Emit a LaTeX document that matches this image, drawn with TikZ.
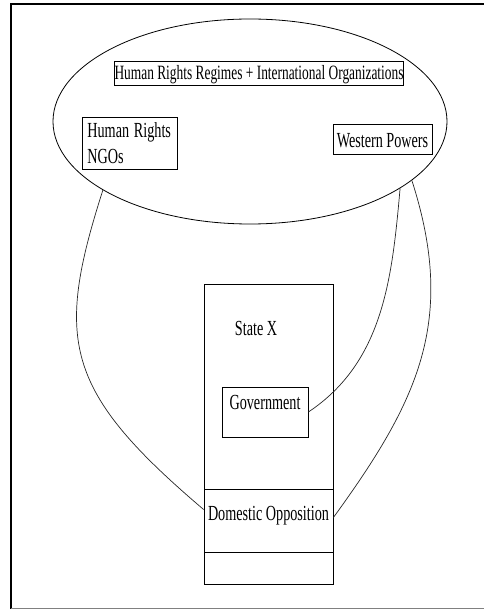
\documentclass[tikz,border=0pt]{standalone}
\usepackage{graphicx}
\usepackage{fontspec}
\setmainfont{Liberation Serif}
\newcommand{\sqz}[1]{\scalebox{0.66}[1]{#1}}
\usetikzlibrary{shapes.geometric}
\begin{document}
\begin{tikzpicture}[x=1pt,y=-1pt, line width=0.8pt,
  lbl/.style={font=\fontsize{21.5}{26}\selectfont},
  box/.style={draw, rectangle, inner sep=0pt, lbl},
  conn/.style={draw, line width=0.7pt, black!85}]
\useasboundingbox (0,0) rectangle (484,609);
% frame
\draw[line width=1.6pt] (11,609) -- (11,4) -- (484,4);
\draw[gray, line width=1pt] (11,608) -- (484,608);
% outer ellipse
\node[ellipse, draw, minimum width=394pt, minimum height=205pt, inner sep=0pt] (ell) at (250,121.5) {};
\node[box, font=\fontsize{20.3}{24}\selectfont, minimum width=288pt, text height=19pt, text depth=5pt] (title) at (259,73) {\sqz{Human Rights Regimes + International Organizations}};
\node[box, anchor=north west, text width=85pt, inner xsep=5pt, inner ysep=5.5pt, align=left] (ngo) at (82,117) {\sqz{Human Rights}\\\sqz{NGOs}};
\node[box, minimum width=99pt, text height=24pt, text depth=6pt] (west) at (382.5,139) {\sqz{Western Powers}};
% state
\node[box, minimum width=129pt, minimum height=300pt] (state) at (268.5,434) {};
\node[lbl, anchor=base, inner sep=0pt] (statex) at (256,335) {\sqz{State X}};
\node[box, minimum width=86pt, text height=19pt, text depth=25pt, inner ysep=3pt] (gov) at (265,412) {\sqz{Government}};
\node[box, minimum width=129pt, text height=31pt, text depth=32pt] (dom) at (268.5,520.5) {\sqz{Domestic Opposition}};
% connectors
\draw[conn] (ell.205.6) .. controls +(-48,150) and +(-140,-119) .. ([yshift=11pt]dom.west);
\draw[conn] (ell.336.8) .. controls +(-8,90) and +(75,-50) .. (gov.east);
\draw[conn] (ell.340.8) .. controls +(45,140) and +(85,-117) .. ([yshift=3pt]dom.east);
\end{tikzpicture}
\end{document}
